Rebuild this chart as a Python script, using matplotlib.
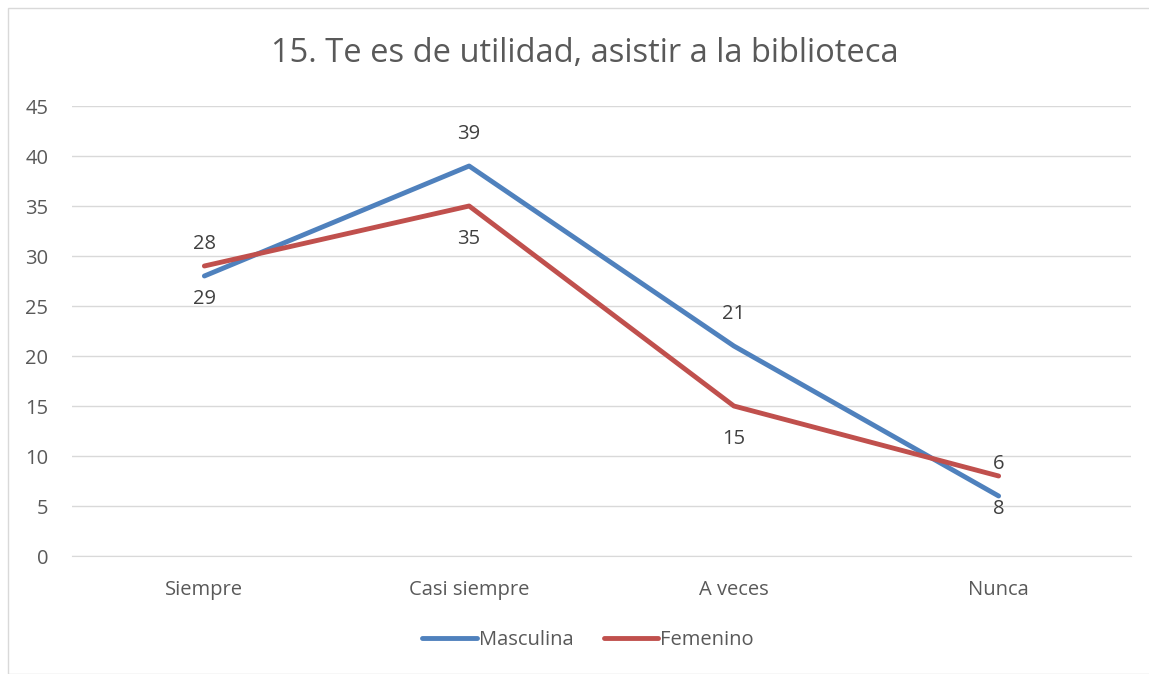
import matplotlib.pyplot as plt
from matplotlib.patches import Rectangle

categorias = ['Siempre', 'Casi siempre', 'A veces', 'Nunca']
masculina = [28, 39, 21, 6]
femenino = [29, 35, 15, 8]
etiq_masc = ['28', '39', '21', '6']
etiq_fem = ['29', '35', '15', '8']

plt.rcParams['font.family'] = ['Open Sans', 'DejaVu Sans']
gris = '#595959'

fig = plt.figure(figsize=(11.49, 6.74), dpi=100)
fig.patches.append(Rectangle((8/1149, 0), 1.0, 1-8/674, transform=fig.transFigure,
                             fill=False, edgecolor='#D9D9D9', lw=1))
ax = fig.add_axes([72/1149, 1-556/674, (1131-72)/1149, 450/674])

x = range(len(categorias))
ax.plot(x, masculina, color='#4F81BD', lw=3.5, solid_capstyle='round', label='Masculina')
ax.plot(x, femenino, color='#C0504D', lw=3.5, solid_capstyle='round', label='Femenino')

for i in x:
    ax.annotate(etiq_masc[i], (i, masculina[i]), xytext=(0, 23), textcoords='offset points',
                ha='center', va='center', fontsize=14.5, color='#404040')
    ax.annotate(etiq_fem[i], (i, femenino[i]), xytext=(0, -24), textcoords='offset points',
                ha='center', va='center', fontsize=14.5, color='#404040')

ax.set_xlim(-0.5, 3.5)
ax.set_ylim(0, 45)
ax.set_yticks(range(0, 46, 5))
ax.set_xticks(list(x))
ax.set_xticklabels(categorias)
ax.grid(axis='y', color='#D9D9D9', lw=1)
ax.set_axisbelow(True)
for s in ['top', 'right', 'left']:
    ax.spines[s].set_visible(False)
ax.spines['bottom'].set_color('#D9D9D9')
ax.tick_params(length=0, labelsize=14.5, colors=gris)
ax.tick_params(axis='x', pad=17)
ax.tick_params(axis='y', pad=17)

fig.text(585/1149, 1-53/674, '15. Te es de utilidad, asistir a la biblioteca',
         ha='center', va='center', fontsize=23.5, color=gris)

fig.legend(loc='center', bbox_to_anchor=(588/1149, 1-640/674), ncol=2, frameon=False,
           fontsize=14.5, labelcolor=gris, handlelength=2.7, handletextpad=0.1, columnspacing=1.5)

fig.savefig('out.png', dpi=100)
